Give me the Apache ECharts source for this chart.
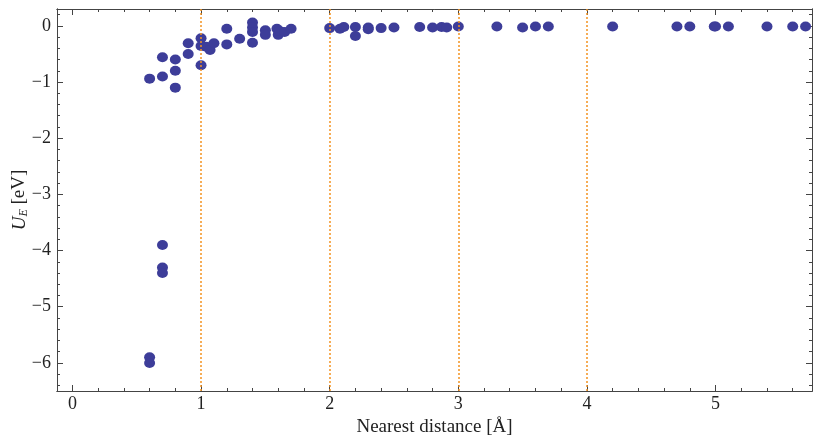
<!DOCTYPE html>
<html>
<head>
<meta charset="UTF-8">
<script src="https://cdn.jsdelivr.net/npm/echarts@6/dist/echarts.min.js"></script>
<style>
  html, body { margin: 0; padding: 0; background: #fff; }
  #chart { width: 815px; height: 435px; }
</style>
</head>
<body>
<div id="chart"></div>
<script>
// nearest distance (Å) and energy (eV)
var distances = [0.6, 0.6, 0.6, 0.7, 0.7, 0.7, 0.7, 0.7, 0.8, 0.8, 0.8, 0.9, 0.9,
  1.0, 1.0, 1.0, 1.04, 1.07, 1.1, 1.2, 1.2, 1.3, 1.4, 1.4, 1.4, 1.4, 1.5, 1.5,
  1.59, 1.6, 1.61, 1.65, 1.7, 2.0, 2.08, 2.11, 2.2, 2.2, 2.3, 2.3, 2.4, 2.5,
  2.7, 2.8, 2.87, 2.91, 3.0, 3.3, 3.5, 3.6, 3.7, 4.2, 4.7, 4.8, 4.99, 5.0, 5.1,
  5.4, 5.6, 5.7];
var energies = [-0.94, -5.9, -6.0, -0.56, -0.90, -3.9, -4.3, -4.4, -0.60, -0.80, -1.10, -0.31, -0.50,
  -0.22, -0.36, -0.70, -0.37, -0.43, -0.31, -0.05, -0.33, -0.23, 0.06, -0.03, -0.11, -0.30, -0.08, -0.16,
  -0.05, -0.16, -0.09, -0.11, -0.05, -0.04, -0.05, -0.02, -0.02, -0.18, -0.03, -0.06, -0.04, -0.03,
  -0.02, -0.03, -0.02, -0.03, -0.01, -0.01, -0.03, -0.01, -0.01, -0.01, -0.01, -0.01, -0.01, -0.01, -0.01,
  -0.01, -0.01, -0.01];
var xTicks = [0, 1, 2, 3, 4, 5];
var yTicks = [0, -1, -2, -3, -4, -5, -6];
var guideLines = [1, 2, 3, 4];

var xRange = [-0.12, 5.75];
var yRange = [-6.5, 0.3];

function minorTicks(lo, hi) {
  var out = [];
  for (var k = Math.ceil(lo * 5); k <= Math.floor(hi * 5); k++) {
    if (k % 5 !== 0) out.push(k / 5);
  }
  return out;
}

function fmt(v) {
  return v < 0 ? '\u2212' + Math.abs(v) : String(v);
}

var points = [];
for (var i = 0; i < distances.length; i++) {
  points.push([distances[i], energies[i]]);
}

var frameColor = '#444';
var serif = 'Liberation Serif';

function xAxisDef(pos, major, labels) {
  return {
    type: 'value', position: pos, min: xRange[0], max: xRange[1],
    axisLine: { show: true, onZero: false, lineStyle: { color: frameColor, width: 1 } },
    axisTick: { show: true, inside: true, length: major ? 6 : 3,
      customValues: major ? xTicks : minorTicks(xRange[0], xRange[1]),
      lineStyle: { color: frameColor } },
    axisLabel: { show: labels, customValues: xTicks, formatter: fmt, margin: 4,
      fontFamily: serif, fontSize: 18, color: '#222' },
    splitLine: { show: false },
    name: labels ? 'Nearest distance [Å]' : '',
    nameLocation: 'middle', nameGap: 22,
    nameTextStyle: { fontFamily: serif, fontSize: 19, color: '#222' }
  };
}

function yAxisDef(pos, major, labels) {
  return {
    type: 'value', position: pos, min: yRange[0], max: yRange[1],
    axisLine: { show: true, onZero: false, lineStyle: { color: frameColor, width: 1 } },
    axisTick: { show: true, inside: true, length: major ? 6 : 3,
      customValues: major ? yTicks : minorTicks(yRange[0], yRange[1]),
      lineStyle: { color: frameColor } },
    axisLabel: { show: labels, customValues: yTicks, formatter: fmt, margin: 6,
      fontFamily: serif, fontSize: 18, color: '#222' },
    splitLine: { show: false },
    name: labels ? '{i|U}{s|E} [eV]' : '',
    nameLocation: 'middle', nameGap: 27, nameRotate: 90, nameMoveOverlap: false,
    nameTextStyle: {
      fontFamily: serif, fontSize: 19, color: '#222',
      rich: {
        i: { fontFamily: serif, fontStyle: 'italic', fontSize: 19, color: '#222' },
        s: { fontFamily: serif, fontStyle: 'italic', fontSize: 12, color: '#222', verticalAlign: 'bottom', padding: [9, 0, 0, 0] }
      }
    }
  };
}

var chart = echarts.init(document.getElementById('chart'));
chart.setOption({
  animation: false,
  backgroundColor: '#fff',
  grid: { left: 57, right: 3, top: 9, bottom: 44, show: false, outerBoundsMode: 'none', containLabel: false },
  xAxis: [
    xAxisDef('bottom', true, true),
    xAxisDef('bottom', false, false),
    xAxisDef('top', true, false),
    xAxisDef('top', false, false)
  ],
  yAxis: [
    yAxisDef('left', true, true),
    yAxisDef('left', false, false),
    yAxisDef('right', true, false),
    yAxisDef('right', false, false)
  ],
  series: [{
    type: 'scatter',
    xAxisIndex: 0, yAxisIndex: 0,
    data: [],
    z: 1,
    markLine: {
      silent: true,
      symbol: 'none',
      label: { show: false },
      lineStyle: { color: '#f39221', type: [2, 2], width: 1.5 },
      data: guideLines.map(function (v) { return { xAxis: v }; })
    }
  }, {
    type: 'scatter',
    xAxisIndex: 0, yAxisIndex: 0,
    data: points,
    symbol: 'circle',
    symbolSize: [11, 10],
    itemStyle: { color: '#3d3d99', opacity: 1 },
    z: 3
  }]
});
</script>
</body>
</html>
